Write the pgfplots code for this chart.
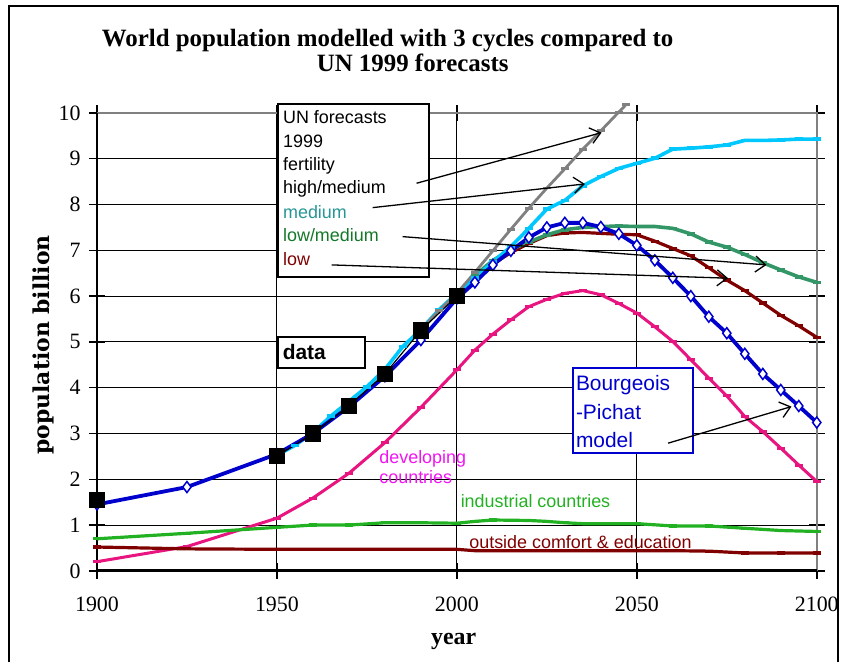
\documentclass[border=0pt]{standalone}
\usepackage{fontspec}
\setmainfont{Liberation Serif}
\newfontfamily\arial{Liberation Sans}
\newfontfamily\slab{DejaVu Serif}
\usepackage{pgfplots}
\pgfplotsset{compat=1.18}
\usetikzlibrary{arrows.meta}

\definecolor{modelblue}{RGB}{0,0,204}
\definecolor{medcyan}{RGB}{0,200,255}
\definecolor{highgray}{RGB}{128,128,128}
\definecolor{lowmedgreen}{RGB}{51,150,102}
\definecolor{lowred}{RGB}{128,0,0}
\definecolor{devpink}{RGB}{232,20,128}
\definecolor{indgreen}{RGB}{34,177,34}
\definecolor{txtmagenta}{RGB}{240,20,240}
\definecolor{txtteal}{RGB}{40,150,150}
\definecolor{txtgreen}{RGB}{20,120,40}

\begin{document}
\begin{tikzpicture}
\begin{axis}[
  width=720bp, height=458bp, scale only axis,
  xmin=1900, xmax=2100, ymin=0, ymax=10,
  xtick={1900,1950,2000,2050,2100}, ytick={0,1,...,10},
  /pgf/number format/1000 sep={},
  /pgf/number format/assume math mode=true,
  tick label style={font=\fontsize{22}{22}\selectfont},
  xticklabel style={yshift=-15bp},
  yticklabel style={xshift=-5bp},
  grid=major, grid style={black, line width=0.9bp},
  axis line style={draw=none},
  tick align=center, major tick length=16bp,
  tick style={black, line width=1.5bp},
  clip=false,
]
% frame
\draw[highgray, line width=2bp] (axis cs:1900,10) -- (axis cs:2100,10) -- (axis cs:2100,0);
\draw[black, line width=2.5bp] (axis cs:1900,10) -- (axis cs:1900,0);
\draw[black, line width=3bp] (axis cs:1900,0) -- (axis cs:2100,0);

% developing countries
\addplot[devpink, line width=3bp, mark=-, mark size=4bp] coordinates {
 (1900,0.20) (1925,0.53) (1950,1.15) (1960,1.59) (1970,2.13) (1980,2.80) (1990,3.57)
 (2000,4.39) (2005,4.82) (2010,5.17) (2015,5.48) (2020,5.77) (2025,5.93) (2030,6.06)
 (2035,6.12) (2040,6.03) (2045,5.84) (2050,5.63) (2055,5.33) (2060,5.01) (2065,4.61)
 (2070,4.21) (2075,3.82) (2080,3.37) (2085,3.04) (2090,2.68) (2095,2.31) (2100,1.95)};
% industrial countries
\addplot[indgreen, line width=3.2bp, mark=-, mark size=4bp] coordinates {
 (1900,0.70) (1925,0.82) (1950,0.95) (1960,1.00) (1970,1.00) (1980,1.05) (1990,1.05)
 (2000,1.04) (2005,1.08) (2010,1.11) (2020,1.10) (2025,1.08) (2030,1.05) (2035,1.03)
 (2050,1.03) (2060,0.98) (2070,0.98) (2080,0.93) (2090,0.88) (2100,0.86)};
% outside comfort & education
\addplot[lowred, line width=3.2bp, mark=-, mark size=4bp] coordinates {
 (1900,0.52) (1925,0.48) (1950,0.47) (1960,0.47) (1970,0.47) (1980,0.47) (1990,0.47)
 (2000,0.47) (2005,0.44) (2010,0.44) (2020,0.44) (2030,0.44) (2040,0.44) (2050,0.44)
 (2060,0.44) (2070,0.43) (2080,0.39) (2090,0.39) (2100,0.39)};

% UN low
\addplot[lowred, line width=3.2bp, mark=-, mark size=4bp] coordinates {
 (2000,6.06) (2005,6.40) (2010,6.70) (2015,6.95) (2020,7.15) (2025,7.32) (2030,7.38)
 (2035,7.39) (2040,7.37) (2045,7.35) (2050,7.34) (2055,7.20) (2060,7.04) (2065,6.88)
 (2070,6.62) (2075,6.35) (2080,6.12) (2085,5.85) (2090,5.58) (2095,5.35) (2100,5.10)};
% UN low/medium
\addplot[lowmedgreen, line width=3.6bp, mark=-, mark size=4bp] coordinates {
 (2000,6.06) (2005,6.45) (2010,6.78) (2015,7.02) (2020,7.18) (2025,7.34) (2030,7.45)
 (2035,7.50) (2040,7.52) (2045,7.53) (2050,7.52) (2055,7.52) (2060,7.48) (2065,7.36)
 (2070,7.18) (2075,7.07) (2080,6.91) (2085,6.73) (2090,6.57) (2095,6.42) (2100,6.30)};
% UN medium
\addplot[medcyan, line width=3.6bp, mark=-, mark size=4bp] coordinates {
 (1950,2.52) (1955,2.74) (1960,3.02) (1965,3.38) (1970,3.70) (1975,4.02) (1980,4.40)
 (1985,4.90) (1990,5.27) (1995,5.70) (2000,6.06) (2005,6.40) (2010,6.75) (2015,7.08)
 (2020,7.48) (2025,7.90) (2030,8.09) (2035,8.41) (2040,8.61) (2045,8.79) (2050,8.90)
 (2055,9.01) (2060,9.21) (2065,9.23) (2070,9.26) (2075,9.30) (2080,9.40) (2085,9.40)
 (2090,9.41) (2095,9.43) (2100,9.43)};
% UN high/medium
\addplot[highgray, line width=2.8bp, mark=-, mark size=4bp] coordinates {
 (1990,5.27) (1995,5.68) (2000,6.06) (2005,6.52) (2010,6.99) (2015,7.46) (2020,7.92)
 (2025,8.36) (2030,8.78) (2035,9.21) (2040,9.61) (2045,10.02) (2047,10.18)};

% Bourgeois-Pichat model
\addplot[modelblue, line width=3.8bp, mark=diamond*,
  mark options={fill=white, draw=modelblue, line width=1.5bp}, mark size=5.5bp] coordinates {
 (1900,1.45) (1925,1.83) (1950,2.55) (1960,3.00) (1970,3.58) (1980,4.25) (1990,5.04)
 (2000,5.95) (2005,6.30) (2010,6.68) (2015,6.99) (2020,7.28) (2025,7.50) (2030,7.60)
 (2035,7.60) (2040,7.51) (2045,7.36) (2050,7.11) (2055,6.78) (2060,6.40) (2065,6.00)
 (2070,5.55) (2075,5.19) (2080,4.74) (2085,4.30) (2090,3.95) (2095,3.60) (2100,3.24)};

% data
\addplot[black, line width=1.2bp, mark=square*, mark size=7.5bp,
  mark options={fill=black}] coordinates {
 (1950,2.50) (1960,3.00) (1970,3.60) (1980,4.30) (1990,5.25) (2000,6.00)};
\addplot[only marks, mark=square*, mark size=7.5bp, black] coordinates {(1900,1.55)};
\end{axis}

\begin{scope}[x=1bp, y=-1bp, shift={(-97bp,571bp)}]
\useasboundingbox (0,0) rectangle (842,662);
\draw[line width=2bp] (9,690) -- (9,6) -- (838,6) -- (838,690);

% title
\node[anchor=base west, inner sep=0, font=\fontsize{25}{25}\selectfont\bfseries]
  at (101.7,46.7) {World population modelled with 3 cycles compared to};
\node[anchor=base west, inner sep=0, font=\fontsize{25}{25}\selectfont\bfseries]
  at (316.7,72) {UN 1999 forecasts};

% axis titles
\node[rotate=90, font=\fontsize{22}{22}\selectfont\slab\bfseries] at (43,345) {population billion};
\node[anchor=base, inner sep=0, font=\fontsize{24}{24}\selectfont\bfseries] at (453.8,644.3) {year};

% UN legend box
\draw[line width=2bp, fill=white] (278.3,104) rectangle (429,277.3);
\begin{scope}[every node/.style={anchor=base west, inner sep=0, font=\fontsize{18}{18}\selectfont\arial}]
\node at (283,124) {UN forecasts};
\node at (283,147.7) {1999};
\node at (283,170.5) {fertility};
\node[] at (283,193.3) {high/medium};
\node[text=txtteal] at (283,218.3) {medium};
\node[text=txtgreen] at (283,241.7) {low/medium};
\node[text=lowred] at (283,265.7) {low};
\node[text=txtmagenta] at (379.3,463.5) {developing};
\node[text=txtmagenta] at (379.3,484) {countries};
\node[text=indgreen] at (460.7,507.7) {industrial countries};
\node[text=lowred] at (469.3,548.3) {outside comfort \& education};
\end{scope}

% data box
\draw[line width=1.5bp, fill=white] (278.3,337.3) rectangle (365,368.3);
\node[anchor=base west, inner sep=0, font=\fontsize{21}{21}\selectfont\arial\bfseries] at (282.7,359.3) {data};

% model box
\draw[modelblue, line width=2bp, fill=white] (573,367.7) rectangle (693.3,453.3);
\begin{scope}[every node/.style={anchor=base west, inner sep=0, text=modelblue, font=\fontsize{21}{21}\selectfont\arial}]
\node at (576,390.7) {Bourgeois};
\node at (576,420) {-Pichat};
\node at (576,447.3) {model};
\end{scope}

% arrows
\begin{scope}[line width=1.3bp, -{Straight Barb[length=10bp, width=16bp]}]
\draw (416.7,183.3) -- (601.7,132.7);
\draw (372.7,207.7) -- (585,184);
\draw (402.7,236.7) -- (766.7,265);
\draw (331.7,265) -- (728.3,278.3);
\draw (668.3,443.3) -- (791.7,406.7);
\end{scope}
\end{scope}
\end{tikzpicture}
\end{document}
